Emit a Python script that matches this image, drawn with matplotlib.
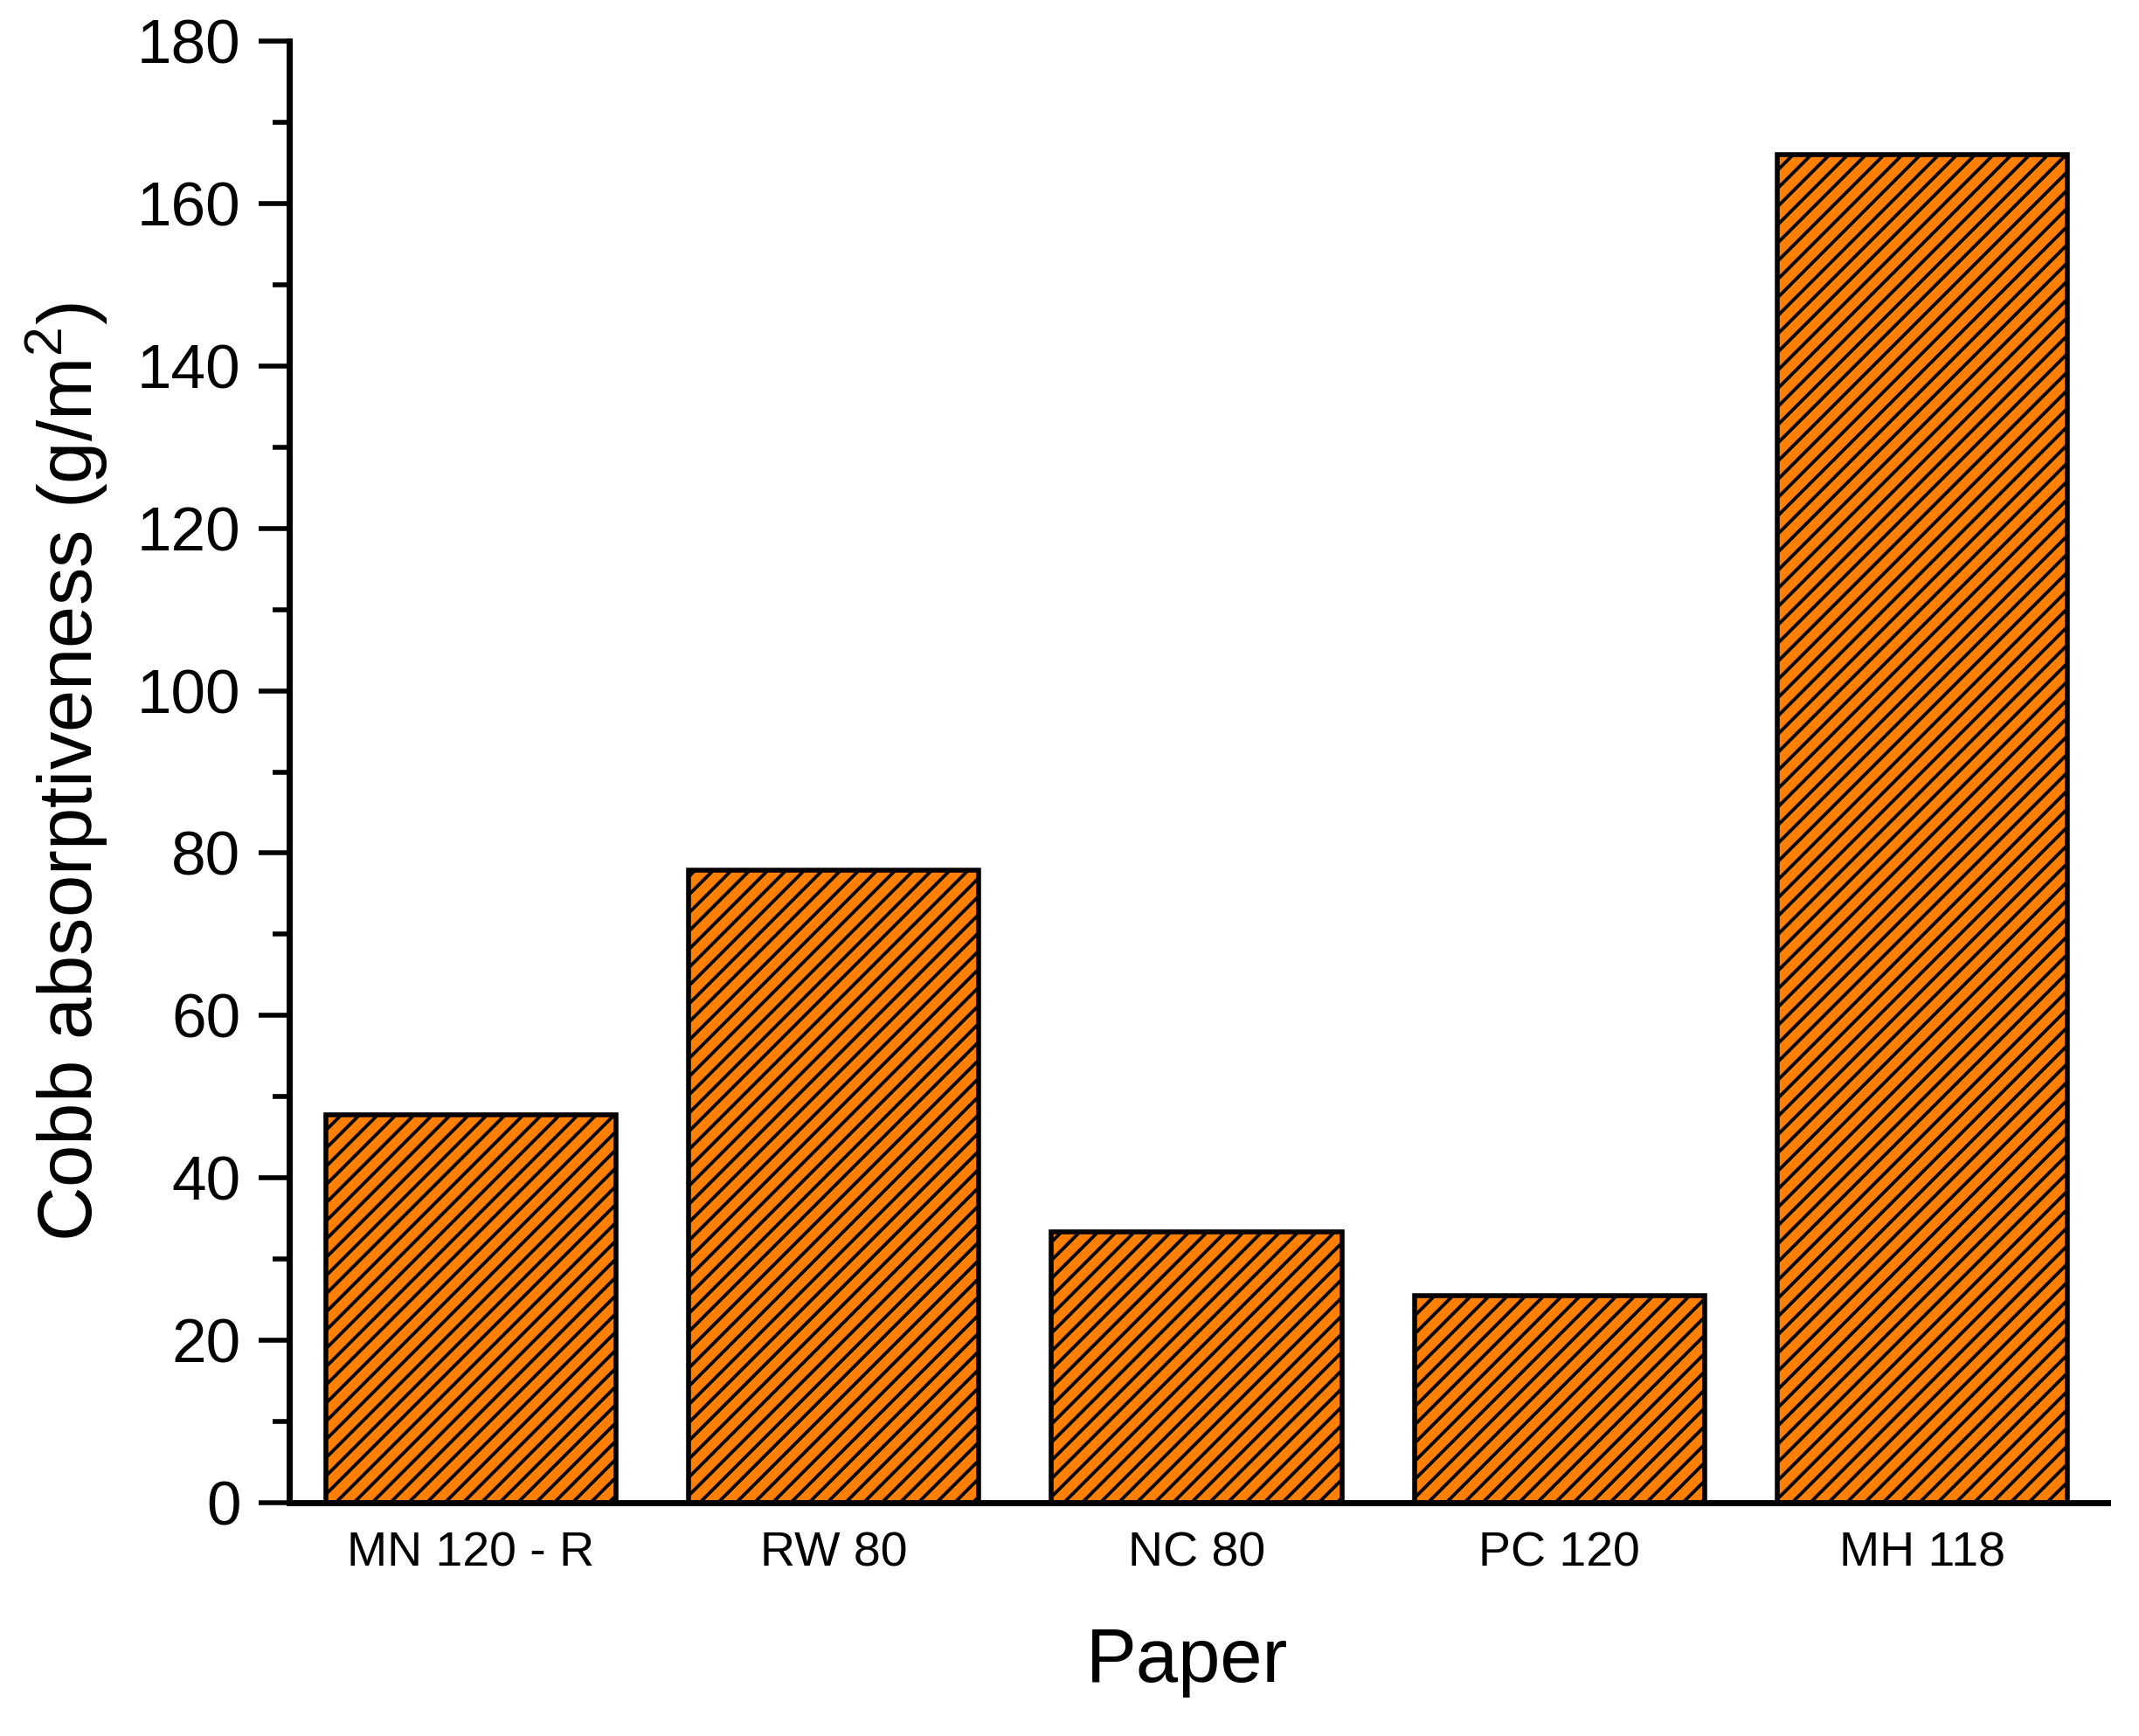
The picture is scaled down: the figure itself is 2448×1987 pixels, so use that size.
import matplotlib
matplotlib.use("Agg")
import matplotlib.pyplot as plt
from matplotlib.ticker import MultipleLocator

papers = ["MN 120 - R", "RW 80", "NC 80", "PC 120", "MH 118"]
cobb = [47.8, 77.9, 33.3, 25.5, 166.0]

plt.rcParams['font.family'] = ['Liberation Sans', 'DejaVu Sans']
plt.rcParams['mathtext.fontset'] = 'custom'
plt.rcParams['mathtext.rm'] = 'Liberation Sans'
plt.rcParams['hatch.linewidth'] = 2.2
plt.rcParams['hatch.color'] = 'black'

DPI = 125
fig = plt.figure(figsize=(2448 / DPI, 1987 / DPI), dpi=DPI)
ax = fig.add_axes([331 / 2448, 1 - 1720 / 1987, (2412 - 331) / 2448, (1720 - 47) / 1987])

x = list(range(1, len(papers) + 1))
ax.bar(x, cobb, width=0.8, color='#FF8000', edgecolor='black', linewidth=3.2, hatch='//', zorder=2)

ax.set_xlim(0.5, 5.51)
ax.set_ylim(0, 180)
ax.set_xticks(x)
ax.set_xticklabels(papers)
ax.yaxis.set_major_locator(MultipleLocator(20))
ax.yaxis.set_minor_locator(MultipleLocator(10))

for s in ['top', 'right']:
    ax.spines[s].set_visible(False)
for s in ['left', 'bottom']:
    ax.spines[s].set_linewidth(4.0)
    ax.spines[s].set_zorder(3)

ax.tick_params(axis='y', which='major', direction='out', length=20, width=3.2, labelsize=41, pad=12)
ax.tick_params(axis='y', which='minor', direction='out', length=11, width=3.2)
ax.tick_params(axis='x', which='both', length=0, labelsize=32, pad=19)

ax.set_xlabel('Paper', fontsize=50, labelpad=30)
ax.xaxis.set_label_coords(0.4936, -0.085)
ax.xaxis.label.set_va('top')
ax.set_ylabel(r'Cobb absorptiveness (g/m$^\mathregular{2}$)', fontsize=50, labelpad=18)

fig.savefig('out.png', dpi=DPI, facecolor='white')
